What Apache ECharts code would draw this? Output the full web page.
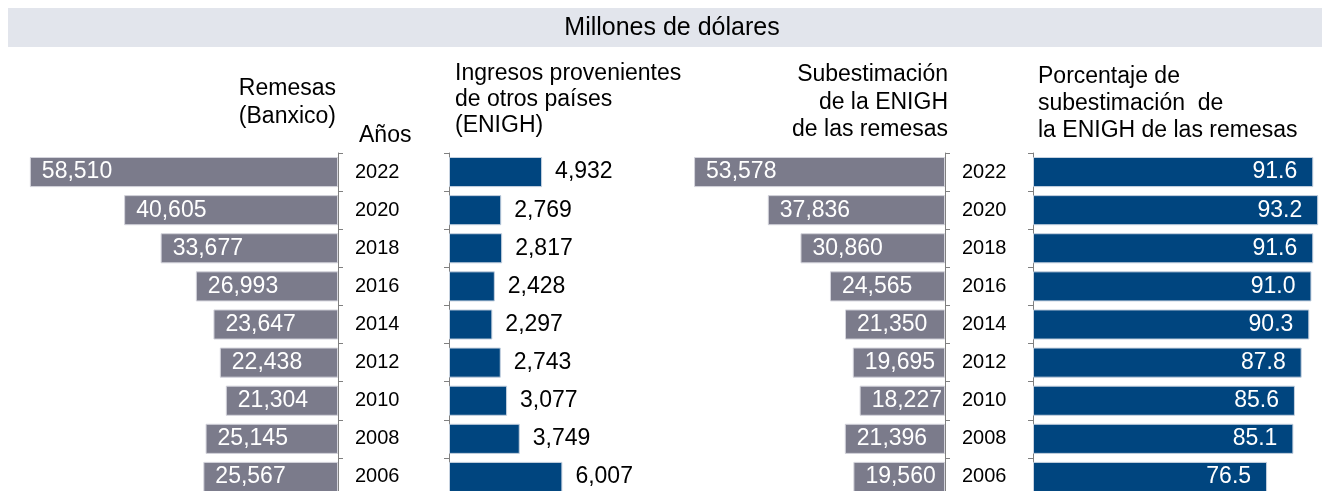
<!DOCTYPE html>
<html>
<head>
<meta charset="utf-8">
<script src="https://cdn.jsdelivr.net/npm/echarts@6/dist/echarts.min.js"></script>
<style>
  html, body { margin: 0; padding: 0; background: #fff; }
  #chart { width: 1322px; height: 491px; }
</style>
</head>
<body>
<div id="chart"></div>
<script>
const years = ['2022', '2020', '2018', '2016', '2014', '2012', '2010', '2008', '2006'];
const remesasBanxico = [58510, 40605, 33677, 26993, 23647, 22438, 21304, 25145, 25567];
const ingresosEnigh = [4932, 2769, 2817, 2428, 2297, 2743, 3077, 3749, 6007];
const subestimacion = [53578, 37836, 30860, 24565, 21350, 19695, 18227, 21396, 19560];
const porcentajeSub = [91.6, 93.2, 91.6, 91.0, 90.3, 87.8, 85.6, 85.1, 76.5];

const GREY = '#7b7b8b';
const BLUE = '#00457f';
const FONT = 'Liberation Sans, Arial, sans-serif';

const fmtThousands = (v) => v.toLocaleString('en-US');

const chart = echarts.init(document.getElementById('chart'));

const gridTop = 153, gridBottom = -5;

function catAxis(gridIndex, position, showLabel) {
  return {
    type: 'category',
    gridIndex,
    data: years,
    inverse: true,
    position,
    axisLine: { show: true, lineStyle: { color: '#808080', width: 1 } },
    axisTick: { show: true, length: 5, lineStyle: { color: '#808080' } },
    axisLabel: {
      show: showLabel,
      color: '#000',
      fontSize: 20,
      fontFamily: FONT,
      margin: position === 'right' ? 17 : 8
    }
  };
}

function valAxis(gridIndex, max, inverse) {
  return {
    type: 'value',
    gridIndex,
    min: 0,
    max,
    inverse,
    show: false,
    splitLine: { show: false }
  };
}

function makeGrid(left, width) {
  return { left, width, top: gridTop, bottom: gridBottom, outerBoundsMode: 'none', containLabel: false };
}

const barBase = {
  type: 'bar',
  barCategoryGap: '21%',
  silent: true,
  animation: false
};

const labelBase = { show: true, fontSize: 23, fontFamily: FONT };

const option = {
  animation: false,
  grid: [
    makeGrid(22, 316),
    makeGrid(449, 151),
    makeGrid(664, 281),
    makeGrid(1033, 306)
  ],
  xAxis: [
    valAxis(0, 60000, true),
    valAxis(1, 8000, false),
    valAxis(2, 60000, true),
    valAxis(3, 100, false)
  ],
  yAxis: [
    catAxis(0, 'right', true),
    catAxis(1, 'left', false),
    catAxis(2, 'right', true),
    catAxis(3, 'left', false)
  ],
  series: [
    Object.assign({}, barBase, {
      name: 'Remesas (Banxico)',
      xAxisIndex: 0, yAxisIndex: 0,
      data: remesasBanxico,
      itemStyle: { color: GREY, borderColor: '#d4d4dc', borderWidth: 1 },
      label: Object.assign({}, labelBase, {
        position: 'insideLeft', distance: 12, color: '#fff',
        formatter: (p) => fmtThousands(p.value)
      })
    }),
    Object.assign({}, barBase, {
      name: 'Ingresos provenientes de otros países (ENIGH)',
      xAxisIndex: 1, yAxisIndex: 1,
      data: ingresosEnigh,
      itemStyle: { color: BLUE, borderColor: '#c6d2e0', borderWidth: 1 },
      label: Object.assign({}, labelBase, {
        position: 'right', distance: 13, color: '#000',
        formatter: (p) => fmtThousands(p.value)
      })
    }),
    Object.assign({}, barBase, {
      name: 'Subestimación de la ENIGH de las remesas',
      xAxisIndex: 2, yAxisIndex: 2,
      data: subestimacion,
      itemStyle: { color: GREY, borderColor: '#d4d4dc', borderWidth: 1 },
      label: Object.assign({}, labelBase, {
        position: 'insideLeft', distance: 12, color: '#fff',
        formatter: (p) => fmtThousands(p.value)
      })
    }),
    Object.assign({}, barBase, {
      name: 'Porcentaje de subestimación de la ENIGH de las remesas',
      xAxisIndex: 3, yAxisIndex: 3,
      data: porcentajeSub,
      itemStyle: { color: BLUE, borderColor: '#c6d2e0', borderWidth: 1 },
      label: Object.assign({}, labelBase, {
        position: 'insideRight', distance: 16, color: '#fff',
        formatter: (p) => p.value.toFixed(1)
      })
    })
  ],
  graphic: [
    {
      type: 'rect',
      shape: { x: 8, y: 8, width: 1314, height: 39 },
      style: { fill: '#e2e5ec' },
      silent: true
    },
    {
      type: 'text',
      x: 672, y: 28,
      style: {
        text: 'Millones de dólares',
        font: '25px ' + FONT,
        fill: '#000',
        textAlign: 'center',
        textVerticalAlign: 'middle'
      }
    },
    {
      type: 'text',
      x: 336, y: 75,
      style: {
        text: 'Remesas\n(Banxico)',
        font: '23px ' + FONT,
        lineHeight: 28,
        fill: '#000',
        textAlign: 'right',
        textVerticalAlign: 'top'
      }
    },
    {
      type: 'text',
      x: 359, y: 124,
      style: {
        text: 'Años',
        font: '23px ' + FONT,
        fill: '#000',
        textAlign: 'left',
        textVerticalAlign: 'top'
      }
    },
    {
      type: 'text',
      x: 455, y: 61,
      style: {
        text: 'Ingresos provenientes\nde otros países\n(ENIGH)',
        font: '23px ' + FONT,
        lineHeight: 26,
        fill: '#000',
        textAlign: 'left',
        textVerticalAlign: 'top'
      }
    },
    {
      type: 'text',
      x: 948, y: 61,
      style: {
        text: 'Subestimación\nde la ENIGH\nde las remesas',
        font: '23px ' + FONT,
        lineHeight: 27.5,
        fill: '#000',
        textAlign: 'right',
        textVerticalAlign: 'top'
      }
    },
    {
      type: 'text',
      x: 1038, y: 63,
      style: {
        text: 'Porcentaje de\nsubestimación  de\nla ENIGH de las remesas',
        font: '23px ' + FONT,
        lineHeight: 27,
        fill: '#000',
        textAlign: 'left',
        textVerticalAlign: 'top'
      }
    }
  ]
};

chart.setOption(option);
window.addEventListener('resize', () => chart.resize());
</script>
</body>
</html>
